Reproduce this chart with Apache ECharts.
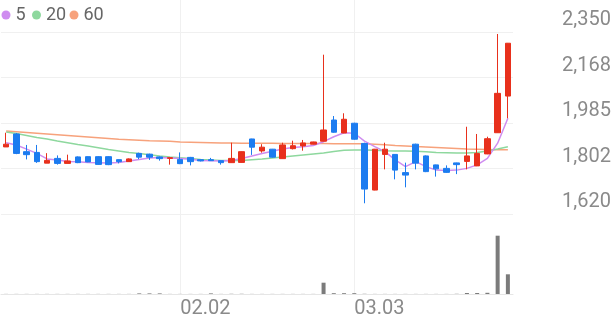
<!DOCTYPE html>
<html>
<head>
<meta charset="utf-8">
<script src="https://cdn.jsdelivr.net/npm/echarts@6/dist/echarts.min.js"></script>
<style>
html,body{margin:0;padding:0;background:#fff;}
#chart{width:616px;height:321px;}
</style>
</head>
<body>
<div id="chart"></div>
<script>
var dates = ['01.08','01.09','01.12','01.13','01.14','01.15','01.16','01.19','01.20','01.21','01.22','01.23','01.26','01.27','01.28','01.29','01.30','02.02','02.03','02.04','02.05','02.06','02.09','02.10','02.11','02.12','02.13','02.19','02.20','02.23','02.24','02.25','02.26','02.27','03.03','03.04','03.05','03.06','03.09','03.10','03.11','03.12','03.13','03.16','03.17','03.18','03.19','03.20','03.23','03.24'];
var xTickLabels = ['02.02','03.03'];
var priceTickLabels = ['1,620','1,802','1,985','2,168','2,350'];
var priceMin = 1620, priceMax = 2350;

var openP  = [1889,1941,1870,1867,1824,1843,1823,1849,1850,1850,1850,1838,1830,1863,1860,1849,1843,1839,1847,1838,1838,1834,1826,1827,1921,1873,1880,1842,1882,1893,1900,1912,1997,1945,1984,1903,1716,1859,1859,1786,1900,1853,1817,1803,1825,1831,1813,1861,1946,2093];
var closeP = [1900,1863,1858,1830,1835,1823,1833,1826,1829,1819,1818,1830,1841,1848,1848,1842,1846,1822,1830,1833,1834,1826,1843,1870,1888,1888,1848,1897,1894,1905,1909,1957,1948,2000,1920,1720,1880,1880,1796,1776,1824,1790,1801,1787,1818,1853,1863,1922,2104,2305];
var lowP   = [1889,1860,1839,1825,1824,1818,1823,1824,1828,1817,1816,1823,1829,1840,1837,1834,1818,1820,1815,1831,1833,1818,1825,1826,1857,1866,1846,1841,1879,1874,1899,1911,1946,1944,1918,1663,1715,1799,1759,1727,1799,1788,1770,1785,1780,1799,1812,1860,1945,2004];
var highP  = [1946,1945,1897,1897,1864,1855,1858,1851,1851,1852,1852,1839,1843,1866,1862,1851,1847,1867,1849,1839,1845,1835,1906,1871,1922,1900,1881,1906,1914,1917,1910,2259,2013,2024,1986,1906,1881,1906,1860,1826,1902,1855,1818,1815,1826,1970,1941,1930,2342,2306];

var ma5  = [1906,1897,1880,1863,1841,1837,1831,1830,1827,1826,1825,1827,1833,1839,1845,1847,1845,1843,1840,1835,1834,1833,1835,1843,1853,1863,1872,1881,1887,1890,1895,1910,1930,1946,1944,1912,1890,1870,1837,1810,1830,1810,1796,1794,1796,1803,1817,1843,1904,2004];
var ma20 = [1949,1943,1935,1927,1921,1913,1906,1899,1893,1886,1879,1873,1867,1863,1858,1853,1849,1846,1843,1839,1837,1835,1835,1835,1838,1841,1845,1849,1853,1857,1861,1865,1871,1876,1877,1877,1876,1874,1873,1873,1872,1870,1867,1866,1865,1865,1867,1873,1881,1890];
var ma60 = [1953,1950,1947,1944,1941,1938,1935,1932,1929,1926,1923,1920,1918,1916,1914,1913,1912,1909,1908,1907,1906,1905,1905,1904,1904,1904,1904,1903,1903,1903,1903,1903,1902,1902,1902,1902,1900,1898,1895,1893,1891,1889,1887,1885,1883,1881,1880,1879,1878,1878];

var volume = [1,1,1,1,1,1,1,1,1,1,1,1,1,6,6,6,1,1,1,1,6,1,2,2,1,1,1,1,1,1,1,113,8,8,8,2,1,1,1,1,1,1,1,1,2,10,10,12,583,197];

var UP = '#e8301c', DOWN = '#1c7cf0';
var candleData = openP.map(function (o, i) { return [o, closeP[i], lowP[i], highP[i]]; });
function isTick(idx, val) { return xTickLabels.indexOf(val !== undefined ? val : dates[idx]) >= 0; }

var chart = echarts.init(document.getElementById('chart'), null, {renderer: 'canvas'});
var legendBase = {
  top: 6, padding: 0, icon: 'circle', itemWidth: 9, itemHeight: 9,
  textStyle: {fontSize: 18, color: '#666', fontFamily: 'Roboto'}, selectedMode: false
};
chart.setOption({
  animation: false,
  textStyle: {fontFamily: 'Roboto'},
  legend: [
    Object.assign({}, legendBase, {left: 1.5, data: ['5']}),
    Object.assign({}, legendBase, {left: 32, data: ['20']}),
    Object.assign({}, legendBase, {left: 69.5, data: ['60']})
  ],
  grid: [
    {left: 1, right: 103, top: 32, height: 182},
    {left: 1, right: 103, top: 215, height: 79},
    {left: 6.12, right: 108.12, top: 0, height: 294}
  ],
  xAxis: [
    {type: 'category', gridIndex: 0, data: dates, boundaryGap: true,
     axisLine: {show: false}, axisTick: {show: false}, axisLabel: {show: false}, splitLine: {show: false}},
    {type: 'category', gridIndex: 1, data: dates, boundaryGap: true,
     axisLine: {show: true, lineStyle: {color: '#e6e6e6', width: 1}}, axisTick: {show: false}, axisLabel: {show: false}, splitLine: {show: false}},
    {type: 'category', gridIndex: 2, data: dates, boundaryGap: false,
     axisLine: {show: false}, axisTick: {show: false},
     axisLabel: {show: true, interval: isTick, align: 'left', margin: 5, fontSize: 20, color: '#8a8a8a',
       formatter: function (v) { return v; }},
     splitLine: {show: true, interval: isTick, lineStyle: {color: '#f0f0f0', width: 1}}}
  ],
  yAxis: [
    {type: 'value', gridIndex: 0, min: priceMin, max: priceMax, show: false},
    {type: 'value', gridIndex: 0, min: 0, max: priceTickLabels.length - 1, interval: 1, position: 'right',
     axisLine: {show: false}, axisTick: {show: false},
     splitLine: {show: true, lineStyle: {color: '#f0f0f0', width: 1}},
     axisLabel: {show: true, margin: 49, align: 'left', verticalAlign: 'bottom', padding: [0, 0, 2, 0],
       fontSize: 20, color: '#8a8a8a', formatter: function (v) { return priceTickLabels[v]; }}},
    {type: 'value', gridIndex: 1, min: 0, max: 790, show: false},
    {type: 'value', gridIndex: 2, min: 0, max: 1, show: false}
  ],
  series: [
    {name: '60', type: 'line', xAxisIndex: 0, yAxisIndex: 0, data: ma60, showSymbol: false, symbol: 'none',
     color: '#f7a27c', lineStyle: {width: 1.5, color: '#f7a27c'}, z: 2},
    {name: '20', type: 'line', xAxisIndex: 0, yAxisIndex: 0, data: ma20, showSymbol: false, symbol: 'none',
     color: '#8ed89e', lineStyle: {width: 1.5, color: '#8ed89e'}, z: 2},
    {name: '5', type: 'line', xAxisIndex: 0, yAxisIndex: 0, data: ma5, showSymbol: false, symbol: 'none',
     color: '#cf8df0', lineStyle: {width: 1.5, color: '#cf8df0'}, z: 2},
    {name: 'candle', type: 'candlestick', xAxisIndex: 0, yAxisIndex: 0, data: candleData, barWidth: 6,
     itemStyle: {color: UP, color0: DOWN, borderColor: UP, borderColor0: DOWN, borderWidth: 1}, z: 3},
    {name: 'vol', type: 'bar', xAxisIndex: 1, yAxisIndex: 2, data: volume, barWidth: 4,
     itemStyle: {color: '#7b7b7b'}}
  ]
});
</script>
</body>
</html>
